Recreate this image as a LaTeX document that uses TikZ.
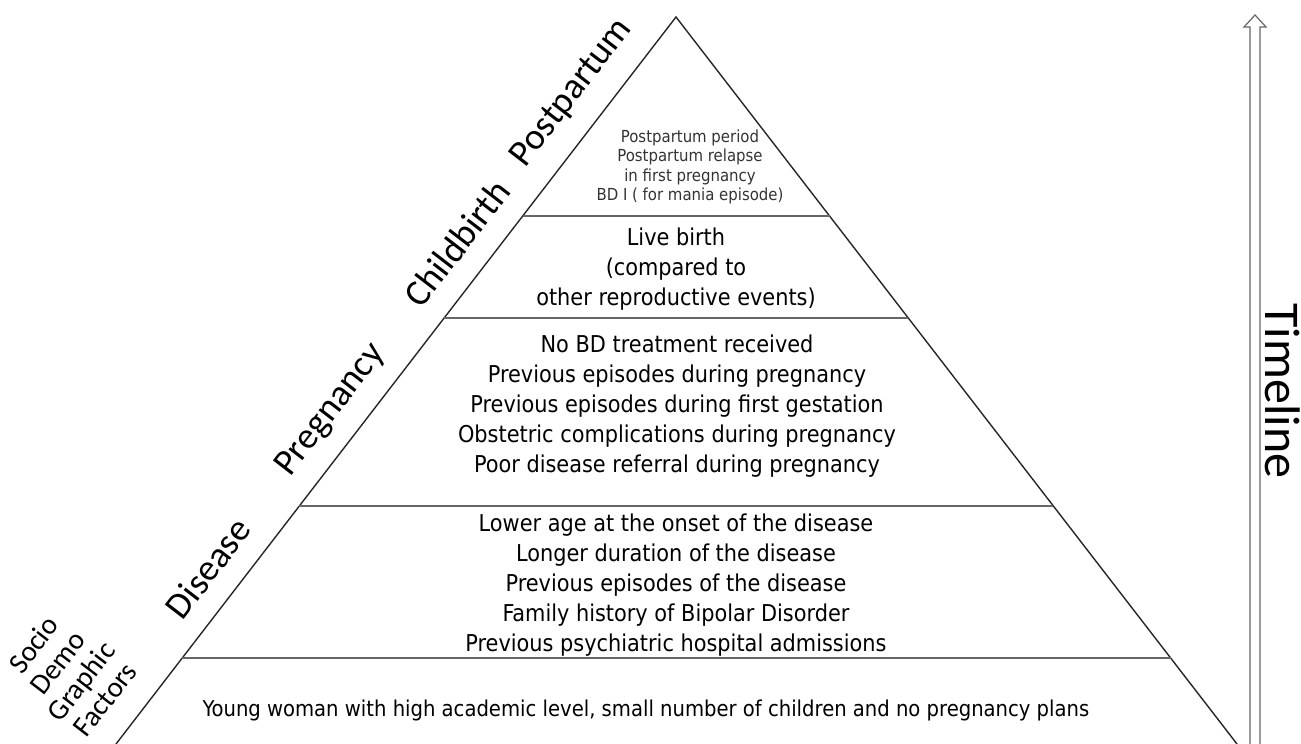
\documentclass[tikz,border=0pt]{standalone}
\usepackage{fontspec}
\setmainfont{DejaVu Sans Condensed}
\newfontfamily\labelfont{Carlito}
\usetikzlibrary{calc}
\begin{document}
\begin{tikzpicture}[x=1pt,y=-1pt,
  edge/.style={draw=black!85, line width=1.4pt},
  sep/.style={draw=black!60, line width=1.4pt},
  body/.style={align=center, font=\fontsize{23.2}{30}\selectfont, inner sep=0pt},
  small/.style={align=center, font=\fontsize{16.6}{19.6}\selectfont, text=black!80, inner sep=0pt},
  lab/.style={font=\labelfont\fontsize{37}{40}\selectfont, rotate=52.4, inner sep=0pt}]
\useasboundingbox (0,0) rectangle (1301,744);
\coordinate (apex) at (676,17);
\coordinate (cornerL) at (116,744);
\coordinate (cornerR) at (1237,744);
\draw[edge] (cornerL) -- (apex) -- (cornerR);
\foreach \n/\t in {A/0.2737, B/0.414, C/0.6726, D/0.8817}{
  \coordinate (sepL\n) at ($(apex)!\t!(cornerL)$);
  \coordinate (sepR\n) at ($(apex)!\t!(cornerR)$);
  \draw[sep] (sepL\n) -- (sepR\n);
}
% timeline arrow
\draw[black!60, line width=1.2pt, fill=white] (1250,745) -- (1250,27) -- (1244,27) -- (1255,15) -- (1266,27) -- (1260,27) -- (1260,745);
\node[font=\labelfont\fontsize{50}{54}\selectfont, rotate=-90, inner sep=0pt] (tl) at (1283,391) {Timeline};
% side labels
\node[lab] (lpost) at (572,93) {Postpartum};
\node[lab] (lchild) at (457,243) {Childbirth};
\node[lab] (lpreg) at (331,410) {Pregnancy};
\node[lab] (ldis) at (208,568) {Disease};
\node[font=\labelfont\fontsize{29}{30}\selectfont, rotate=52.4, align=center, inner sep=0pt] (lsoc) at (69,672) {Socio\\Demo\\Graphic\\Factors};
% contents
\node[small] (t1) at (690,167) {Postpartum period\\Postpartum relapse\\in first pregnancy\\BD I ( for mania episode)};
\node[body] (t2) at (676,269) {Live birth\\(compared to\\other reproductive events)};
\node[body] (t3) at (677,406) {No BD treatment received\\Previous episodes during pregnancy\\Previous episodes during first gestation\\Obstetric complications during pregnancy\\Poor disease referral during pregnancy};
\node[body] (t4) at (676,585) {Lower age at the onset of the disease\\Longer duration of the disease\\Previous episodes of the disease\\Family history of Bipolar Disorder\\Previous psychiatric hospital admissions};
\node[body, font=\fontsize{21.8}{26}\selectfont] (t5) at (646,710) {Young woman with high academic level, small number of children and no pregnancy plans};
\end{tikzpicture}
\end{document}
